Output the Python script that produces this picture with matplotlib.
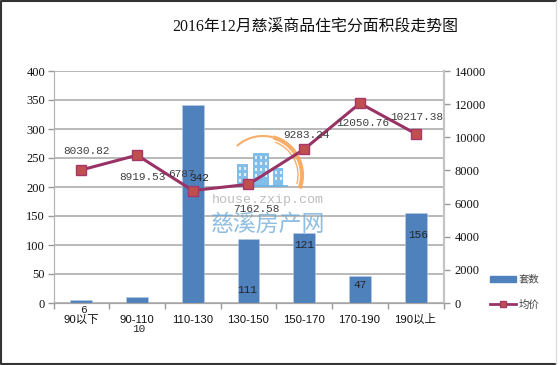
import matplotlib
matplotlib.use('Agg')
import matplotlib.pyplot as plt
from matplotlib.lines import Line2D
from matplotlib.patches import Rectangle, Arc

categories = ['90以下', '90-110', '110-130', '130-150', '150-170', '170-190', '190以上']
counts = [6, 10, 342, 111, 121, 47, 156]
prices = [8030.82, 8919.53, 6787, 7162.58, 9283.24, 12050.76, 10217.38]
price_labels = ['8030.82', '8919.53', '6787', '7162.58', '9283.24', '12050.76', '10217.38']
left_ticks = [0, 50, 100, 150, 200, 250, 300, 350, 400]
right_ticks = [0, 2000, 4000, 6000, 8000, 10000, 12000, 14000]

# label offsets from the mark, in pixels
count_offsets = [(2, -10), (2, -32), (6, -73), (-1, -51), (0, -12), (0, -9), (2, -22)]
price_offsets = [(5, 19), (5, -22), (-11, 17), (8, -25), (2, 14), (3, -20), (1, 17)]

CJK = 'Noto Sans CJK SC'
W, H = 560, 365
fig = plt.figure(figsize=(W / 100, H / 100), dpi=100)
ax1 = fig.add_axes([53.5 / W, (H - 303) / H, 390 / W, 232 / H])
x = list(range(len(categories)))

ax1.set_axisbelow(True)
ax1.yaxis.grid(True, color='#a6a6a6', linewidth=1.1)
ax1.bar(x, counts, width=0.39, color='#4f81bd', edgecolor='#b9cde5', linewidth=0.4)
ax1.set_xlim(-0.5, 6.5)
ax1.set_ylim(0, 400)
ax1.set_yticks(left_ticks)
ax1.set_xticks([i - 0.5 for i in range(8)])
ax1.set_xticklabels([])
ax1.tick_params(axis='x', which='major', length=4, color='#999999', width=1)
ax1.tick_params(axis='y', length=4, color='#999999', width=1, pad=2, labelsize=9)
for t in ax1.get_yticklabels():
    t.set_family('Liberation Serif')
    t.set_color('#111111')
for px, cat in zip(x, categories):
    ax1.annotate(cat, (px, 0), xytext=(-0.5, -20), textcoords='offset pixels', ha='center', va='baseline',
                 family=['Liberation Sans', CJK], fontsize=8.2, color='#111111', annotation_clip=False)

ax2 = ax1.twinx()
ax2.plot(x, prices, color='#993366', linewidth=2.2, marker='s', markersize=7.5,
         markerfacecolor='#c0504d', markeredgecolor='#a5376b', markeredgewidth=1)
ax2.set_ylim(0, 14000)
ax2.set_yticks(right_ticks)
ax2.tick_params(axis='y', length=4, color='#999999', width=1, pad=4, labelsize=9)
for t in ax2.get_yticklabels():
    t.set_family('Liberation Serif')
    t.set_color('#111111')

for ax in (ax1, ax2):
    ax.spines['top'].set_visible(False)
    ax.spines['left'].set_color('#b5b5b5')
    ax.spines['bottom'].set_color('#a6a6a6')
    ax.spines['right'].set_color('#c4c4c4')
    ax.spines['right'].set_linewidth(1.5)

# the watermark sits in its own axes, measured in image pixels
over = fig.add_axes([0, 0, 1, 1])
over.set_xlim(0, W)
over.set_ylim(H, 0)
over.axis('off')
blue = '#6db3e6'
for bx, by, bw in [(237, 164, 11), (253, 153, 16), (273, 168, 10)]:
    over.add_patch(Rectangle((bx, by), bw, 187 - by, color=blue, alpha=0.85, lw=0))
    wins = int(bw / 5)
    for wx in range(wins):
        for wy in range(by + 3, 180, 6):
            over.add_patch(Rectangle((bx + 2 + wx * 5, wy), 2, 3, color='white', alpha=0.8, lw=0))
over.add_patch(Rectangle((235, 185), 53, 2, color=blue, alpha=0.85, lw=0))
over.add_patch(Arc((263, 175), 78, 78, theta1=228, theta2=285, color='#f6a55a', lw=1.5, alpha=0.9))
over.add_patch(Arc((263, 175), 78, 78, theta1=285, theta2=380, color='#f6a55a', lw=3, alpha=0.9))
over.add_patch(Arc((263, 175), 70, 70, theta1=290, theta2=375, color='#f6a55a', lw=1, alpha=0.9))
over.text(268, 200, 'house.zxip.com', family='Liberation Mono', fontsize=9.6, color='#bdbdbd',
          ha='center', va='center')
over.text(268, 224, '慈溪房产网', family=CJK, fontsize=16.5, color='#6aa9d8', ha='center', va='center',
          alpha=0.75)
# image frame: dark on three sides, faint on the right
over.plot([555.5, 0.7, 0.7, 555.5], [0.7, 0.7, 363.5, 363.5], color='#333333', lw=1.5)
over.plot([555.5, 555.5], [0.7, 363.5], color='#dddddd', lw=1)

# data labels go above the watermark
for px, val, lab, off in zip(x, prices, price_labels, price_offsets):
    ax2.annotate(lab, (px, val), xytext=off, textcoords='offset pixels', ha='center', va='center',
                 family='Liberation Mono', fontsize=8, color='#404040', annotation_clip=False, zorder=10)
for px, val, off in zip(x, counts, count_offsets):
    ax1.annotate(str(val), (px, val), xytext=off, textcoords='offset pixels', ha='center', va='center',
                 family='Liberation Mono', fontsize=8, color='#262626', annotation_clip=False, zorder=10)
ax1.set_zorder(1)
over.set_zorder(2)
ax2.set_zorder(3)
ax2.patch.set_visible(False)

fig.text(315 / W, 1 - 27 / H, '2016年12月慈溪商品住宅分面积段走势图', family=['Liberation Serif', CJK],
         fontsize=11.4, color='#111111', ha='center', va='center')

legend_bar = Rectangle((0, 0), 1, 1, color='#4f81bd')
legend_line = Line2D([], [], color='#993366', linewidth=2, marker='s', markersize=4.5,
                     markerfacecolor='#c0504d', markeredgecolor='#a5376b')
fig.legend([legend_bar, legend_line], ['套数', '均价'], loc='center left', bbox_to_anchor=(481 / W, 1 - 292 / H),
           frameon=False, prop={'family': CJK, 'size': 7.5}, labelcolor='#444444',
           handlelength=2.5, handletextpad=0.2, labelspacing=1.45, handleheight=0.5)

fig.savefig('out.png', dpi=100)
